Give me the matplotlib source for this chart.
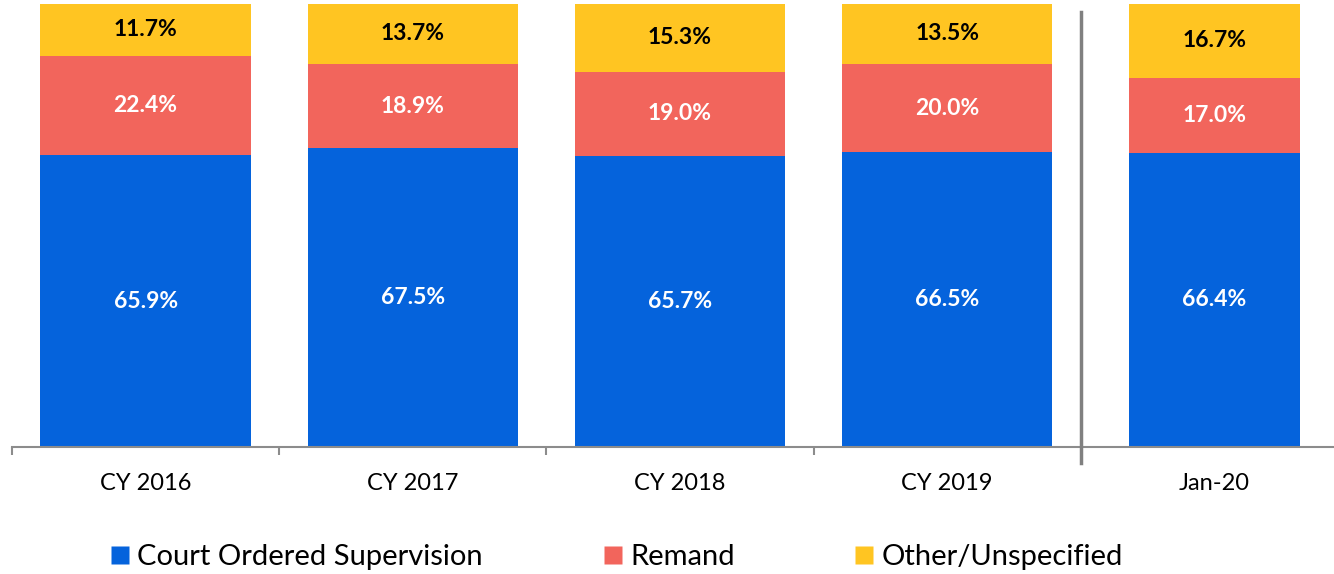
import matplotlib
matplotlib.use("Agg")
import matplotlib.pyplot as plt
from matplotlib.lines import Line2D
import numpy as np

categories = ["CY 2016", "CY 2017", "CY 2018", "CY 2019", "Jan-20"]
court = [65.9, 67.5, 65.7, 66.5, 66.4]
remand = [22.4, 18.9, 19.0, 20.0, 17.0]
other = [11.7, 13.7, 15.3, 13.5, 16.7]
series_names = ["Court Ordered Supervision", "Remand", "Other/Unspecified"]
colors = ["#0563DC", "#F2655C", "#FFC522"]
label_colors = ["white", "white", "black"]
bar_widths = [0.787, 0.787, 0.787, 0.787, 0.64]

W, H = 1334, 574
fig = plt.figure(figsize=(W / 100, H / 100), dpi=100)
plt.rcParams['font.family'] = ['Lato', 'DejaVu Sans']

ax = fig.add_axes([12 / W, 1 - 447 / H, 1336 / W, 443 / H])
x = np.arange(len(categories))
bottom = np.zeros(len(categories))
for vals, col, lc in zip([court, remand, other], colors, label_colors):
    vals = np.array(vals)
    ax.bar(x, vals, width=bar_widths, bottom=bottom, color=col, edgecolor="none", zorder=2)
    for xi, b, v in zip(x, bottom, vals):
        ax.text(xi, b + v / 2, f"{v:.1f}%", ha="center", va="center",
                color=lc, fontsize=16.5, fontweight="bold", zorder=3)
    bottom += vals

ax.set_xlim(-0.5, 4.5)
ax.set_ylim(0, 100)
for s in ["top", "right", "left"]:
    ax.spines[s].set_visible(False)
ax.spines["bottom"].set_color("#8C8C8C")
ax.spines["bottom"].set_linewidth(1.5)
ax.set_yticks([])
ax.set_xticks(x)
ax.set_xticklabels(categories, fontsize=17)
ax.tick_params(axis="x", which="major", length=0, pad=19)
ax.set_xticks([-0.5, 0.5, 1.5, 2.5], minor=True)
ax.tick_params(axis="x", which="minor", length=6, width=1.5, color="#8C8C8C")

# separator line before the last category
ax.plot([3.5, 3.5], [-3.5, 98.2], color="#808080", lw=2.5, clip_on=False, zorder=4)

handles = [Line2D([], [], marker="s", linestyle="none", markersize=12.3,
                  markerfacecolor=c, markeredgecolor="none") for c in colors]
fig.legend(handles, series_names, loc="center left", bbox_to_anchor=(105 / W, 1 - 557 / H),
           ncol=3, frameon=False, fontsize=21, handletextpad=0.1, columnspacing=3.95,
           handlelength=1.0, borderaxespad=0, borderpad=0)

fig.savefig("out.png", dpi=100)
